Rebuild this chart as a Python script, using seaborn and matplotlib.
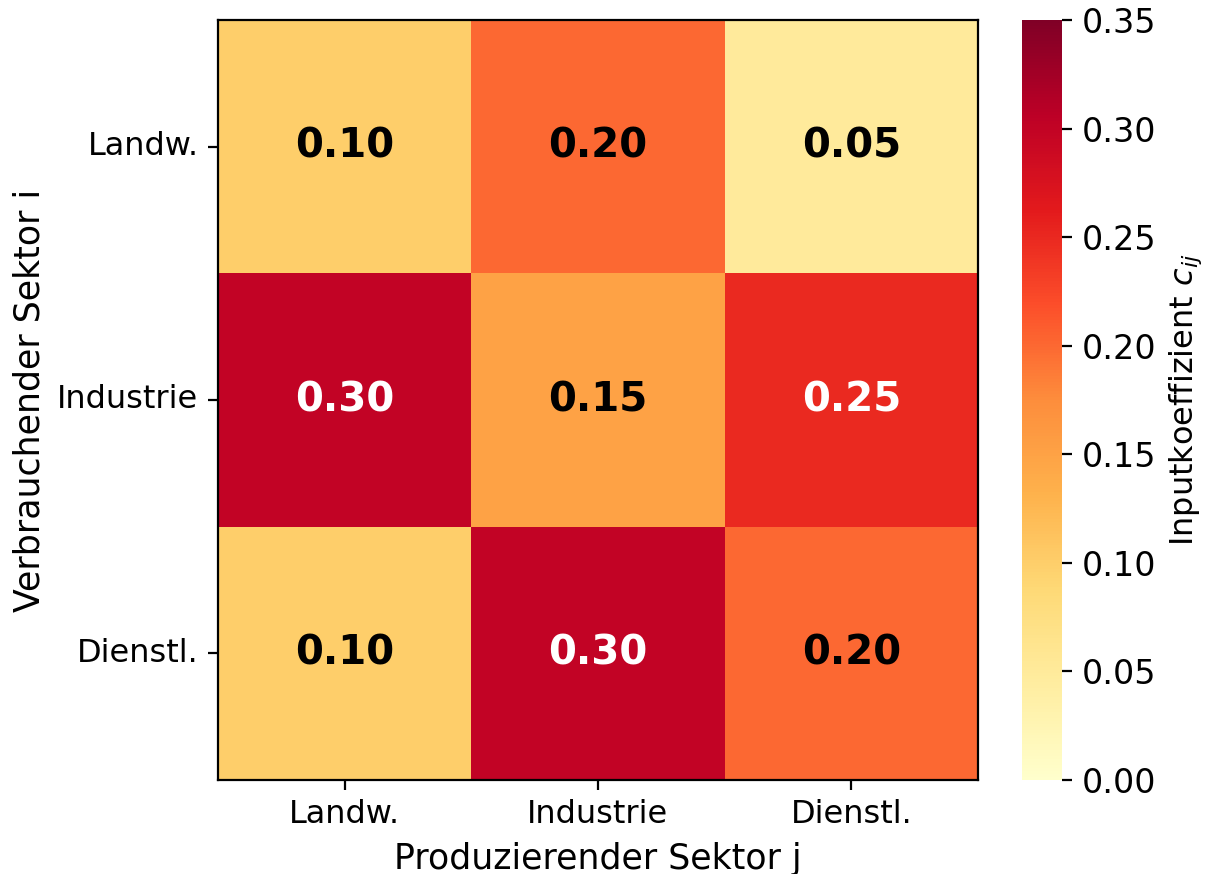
import numpy as np
import pandas as pd
import seaborn as sns
import matplotlib.pyplot as plt

# Sektoren und Inputkoeffizienten c_ij
sectors = ['Landw.', 'Industrie', 'Dienstl.']
row_landw = [0.10, 0.20, 0.05]
row_industrie = [0.30, 0.15, 0.25]
row_dienstl = [0.10, 0.30, 0.20]

df = pd.DataFrame([row_landw, row_industrie, row_dienstl],
                  index=sectors, columns=sectors)

fig = plt.figure(figsize=(6.03, 4.37), dpi=200)
ax = fig.add_axes([218/1206, 94/874, 760/1206, 760/874])
cax = fig.add_axes([1022/1206, 94/874, 40/1206, 760/874])

sns.heatmap(df, ax=ax, cbar_ax=cax, cmap='YlOrRd', vmin=0, vmax=0.35,
            annot=True, fmt='.2f',
            annot_kws={'fontsize': 14.5, 'fontweight': 'bold'})

# Textfarbe je nach Wert
vals = df.values.flatten()
for t, v in zip(ax.texts, vals):
    t.set_color('white' if v > 0.22 else 'black')

for s in ax.spines.values():
    s.set_visible(True)
    s.set_color('black')

ax.tick_params(labelsize=11.5)
ax.set_yticklabels(sectors, rotation=0)
ax.set_xticklabels(sectors, rotation=0)
ax.set_xlabel('Produzierender Sektor j', fontsize=12.5)
ax.set_ylabel('Verbrauchender Sektor i', fontsize=12.5)
# Titel liegt im Original fast komplett ausserhalb des Bildes
ax.set_title('Vorleistungsverflechtung', fontsize=14,
             fontweight='bold', pad=16)

cb = ax.collections[0].colorbar
cb.outline.set_visible(True)
cb.outline.set_edgecolor('black')
cb.set_ticks([0.0, 0.05, 0.10, 0.15, 0.20, 0.25, 0.30, 0.35])
cb.ax.tick_params(labelsize=12)
cb.set_label('Inputkoeffizient $c_{ij}$', fontsize=11.5)

plt.savefig('out.png', dpi=200)
